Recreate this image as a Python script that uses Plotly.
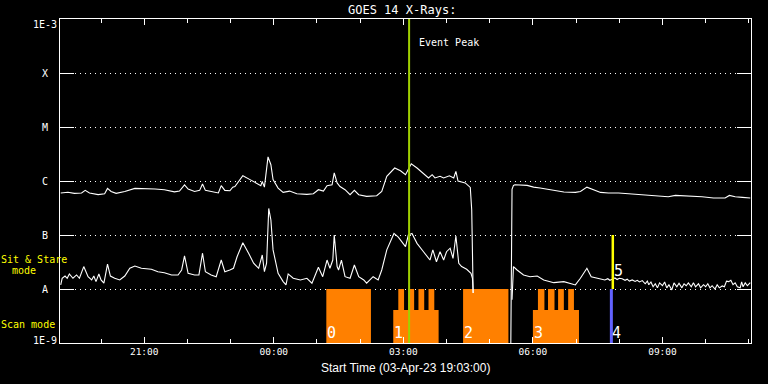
import math
from datetime import datetime
import plotly.graph_objects as go

# ---------------- data ----------------
long_times = ["19:04", "19:14", "19:23", "19:33", "19:38", "19:44", "19:56", "20:05", "20:09", "20:14",
              "20:21", "20:33", "20:47", "21:01", "21:15", "21:28", "21:42", "21:49", "21:56", "22:01",
              "22:10", "22:17", "22:21", "22:25", "22:36", "22:43", "22:47", "22:52", "22:59", "23:03",
              "23:06", "23:17", "23:27", "23:36", "23:42", "23:44", "23:47", "23:52", "23:56", "23:59",
              "00:06", "00:13", "00:22", "00:32", "00:46", "00:55", "01:02", "01:09", "01:14", "01:21",
              "01:24", "01:28", "01:32", "01:39", "01:46", "01:52", "01:58", "02:09", "02:23", "02:30",
              "02:37", "02:48", "02:56", "03:03", "03:06", "03:11", "03:19", "03:28", "03:35", "03:40",
              "03:44", "03:51", "03:56", "04:04", "04:10", "04:13", "04:16", "04:26", "04:33", "04:35",
              "04:37", "05:00", "05:29", "05:31", "05:33", "05:35", "05:52", "06:01", "06:10", "06:29",
              "06:43", "06:59", "07:06", "07:15", "07:22", "07:34", "07:45", "07:59", "08:13", "08:32",
              "08:50", "09:08", "09:18", "09:32", "09:46", "09:55", "10:11", "10:27", "10:33", "10:41",
              "10:51", "11:02"]
long_flux = [6.0e-7, 6.2e-7, 5.9e-7, 6.0e-7, 6.7e-7, 6.0e-7, 5.6e-7, 5.8e-7, 7.3e-7, 6.4e-7,
             5.9e-7, 6.4e-7, 7.3e-7, 7.3e-7, 7.1e-7, 6.9e-7, 6.3e-7, 6.5e-7, 8.5e-7, 7.1e-7,
             6.4e-7, 6.7e-7, 8.8e-7, 6.7e-7, 6.15e-7, 6.0e-7, 8.2e-7, 6.7e-7, 6.6e-7, 7.7e-7,
             7.9e-7, 1.25e-6, 1.06e-6, 9.2e-7, 8.2e-7, 9.8e-7, 7.7e-7, 2.8e-6, 2.0e-6, 1.06e-6,
             7.4e-7, 6.15e-7, 6.5e-7, 5.8e-7, 5.65e-7, 5.8e-7, 6.9e-7, 6.5e-7, 8.2e-7, 8.5e-7,
             1.41e-6, 9.2e-7, 7.9e-7, 6.9e-7, 5.57e-7, 6.7e-7, 5.57e-7, 5.19e-7, 5.34e-7, 6.4e-7,
             1.22e-6, 1.74e-6, 1.55e-6, 1.31e-6, 1.57e-6, 2.09e-6, 1.74e-6, 1.36e-6, 1.14e-6, 1.31e-6,
             1.14e-6, 1.22e-6, 1.14e-6, 1.25e-6, 1.14e-6, 1.51e-6, 1.0e-6, 9.2e-7, 7.6e-7, 2.9e-7,
             8.4e-9, None, 3e-10, 7.0e-7, 8.3e-7, 8.5e-7, 8.3e-7, 7.7e-7, 7.4e-7, 6.7e-7,
             6.25e-7, 6.15e-7, 6.4e-7, 7.7e-7, 7.1e-7, 6.15e-7, 6.0e-7, 6.0e-7, 5.8e-7, 5.57e-7,
             5.34e-7, 5.12e-7, 5.41e-7, 5.34e-7, 5.19e-7, 5.12e-7, 4.84e-7, 4.84e-7, 5.41e-7, 5.12e-7,
             4.97e-7, 4.84e-7]

short_times = ["19:04", "19:06", "19:10", "19:13", "19:16", "19:21", "19:26", "19:30", "19:36", "19:42",
               "19:47", "19:50", "19:53", "19:57", "20:00", "20:04", "20:09", "20:13", "20:19", "20:26",
               "20:33", "20:40", "20:47", "20:56", "21:10", "21:19", "21:28", "21:38", "21:47", "21:52",
               "21:56", "22:01", "22:10", "22:16", "22:21", "22:25", "22:33", "22:40", "22:47", "22:52",
               "22:59", "23:04", "23:09", "23:17", "23:25", "23:32", "23:39", "23:44", "23:47", "23:50",
               "23:53", "23:56", "23:59", "00:06", "00:13", "00:17", "00:20", "00:27", "00:37", "00:46",
               "00:53", "00:57", "01:02", "01:08", "01:14", "01:18", "01:22", "01:24", "01:28", "01:30",
               "01:34", "01:39", "01:46", "01:52", "01:58", "02:05", "02:09", "02:18", "02:25", "02:30",
               "02:37", "02:47", "02:53", "03:03", "03:07", "03:12", "03:19", "03:28", "03:37", "03:41",
               "03:46", "03:51", "03:56", "04:00", "04:05", "04:09", "04:13", "04:17", "04:21", "04:28",
               "04:34", "04:36", "04:37", "05:00", "05:31", "05:33", "05:38", "05:47", "05:56", "06:06",
               "06:15", "06:29", "06:43", "06:52", "06:59", "07:06", "07:15", "07:21", "07:31", "07:40",
               "07:44", "07:47", "07:50", "07:54", "07:57", "08:00", "08:04", "08:08", "08:11", "08:14",
               "08:18", "08:22", "08:25", "08:28", "08:32", "08:36", "08:39", "08:41", "08:44", "08:47",
               "08:50", "08:53", "08:56", "09:00", "09:03", "09:06", "09:09", "09:13", "09:16", "09:20",
               "09:23", "09:27", "09:30", "09:33", "09:36", "09:40", "09:43", "09:46", "09:50", "09:53",
               "09:57", "10:00", "10:03", "10:06", "10:09", "10:13", "10:16", "10:19", "10:23", "10:26",
               "10:29", "10:32", "10:35", "10:38", "10:41", "10:44", "10:48", "10:50", "10:52", "10:55",
               "10:58", "11:02"]
short_flux = [1.19e-8, 1.58e-8, 1.74e-8, 1.58e-8, 1.9e-8, 1.58e-8, 1.82e-8, 1.58e-8, 2.6e-8, 1.69e-8,
              1.47e-8, 1.74e-8, 1.37e-8, 1.9e-8, 1.47e-8, 1.28e-8, 2.9e-8, 1.74e-8, 1.58e-8, 1.47e-8,
              1.74e-8, 2.42e-8, 2.67e-8, 2.42e-8, 2.32e-8, 2.09e-8, 2.0e-8, 1.82e-8, 1.82e-8, 2.25e-8,
              4.1e-8, 1.95e-8, 1.82e-8, 1.82e-8, 4.6e-8, 2.09e-8, 1.82e-8, 1.69e-8, 3.44e-8, 2.09e-8,
              2.25e-8, 2.42e-8, 3.96e-8, 7.2e-8, 4.6e-8, 3.0e-8, 2.42e-8, 4.26e-8, 2.09e-8, 3.0e-8,
              3.1e-7, 1.9e-7, 5.3e-8, 1.95e-8, 1.37e-8, 1.19e-8, 1.9e-8, 1.58e-8, 1.47e-8, 1.58e-8,
              1.28e-8, 1.69e-8, 2.52e-8, 1.69e-8, 3.44e-8, 2.42e-8, 3.44e-8, 1.0e-7, 2.6e-8, 2.25e-8,
              3.44e-8, 1.69e-8, 1.58e-8, 2.78e-8, 1.69e-8, 1.47e-8, 1.28e-8, 1.69e-8, 1.47e-8, 2.25e-8,
              5.3e-8, 1.07e-7, 9.1e-8, 6.1e-8, 1.0e-7, 1.07e-7, 7.0e-8, 4.9e-8, 3.44e-8, 5.3e-8,
              3.2e-8, 4.9e-8, 3.44e-8, 4.9e-8, 5.7e-8, 3.7e-8, 9.6e-8, 3.0e-8, 2.6e-8, 2.32e-8,
              1.95e-8, 1.58e-8, 8.4e-9, None, 6.3e-9, 2.6e-8, 2.25e-8, 1.82e-8, 1.69e-8, 1.74e-8,
              1.47e-8, 1.31e-8, 1.37e-8, 1.28e-8, 1.19e-8, 1.58e-8, 2.42e-8, 1.69e-8, 1.58e-8, 1.47e-8,
              1.55e-8, 1.45e-8, 1.51e-8, 1.6e-8, 1.5e-8, 1.58e-8, 1.55e-8, 1.45e-8, 1.52e-8, 1.4e-8,
              1.47e-8, 1.38e-8, 1.45e-8, 1.35e-8, 1.43e-8, 1.25e-8, 1.4e-8, 1.2e-8, 1.35e-8, 1.1e-8,
              1.25e-8, 1.05e-8, 1.3e-8, 1.15e-8, 1.35e-8, 1.05e-8, 1.2e-8, 9.6e-9, 1.3e-8, 1.1e-8,
              1.28e-8, 1.05e-8, 1.25e-8, 1.15e-8, 1.3e-8, 1.1e-8, 1.31e-8, 1.1e-8, 1.25e-8, 1.05e-8,
              1.2e-8, 1.1e-8, 1.25e-8, 1.05e-8, 1.15e-8, 1.0e-8, 1.2e-8, 1.05e-8, 1.14e-8, 1.1e-8,
              1.4e-8, 1.37e-8, 1.45e-8, 1.2e-8, 1.3e-8, 1.1e-8, 1.05e-8, 1.35e-8, 1.1e-8, 1.3e-8,
              1.15e-8, 1.31e-8]

# observation blocks (orange)
bar_labels = ["0", "1", "2", "3"]
bar_start = ["01:13", "02:46", "04:23", "06:00"]
bar_end = ["02:15", "03:49", "05:26", "07:04"]
bar_level = [1e-8, 4.1e-9, 1e-8, 4.1e-9]
teeth_start = [[], ["02:53", "03:07", "03:21", "03:35"], [], ["06:07", "06:21", "06:35", "06:49"]]
teeth_end = [[], ["03:01", "03:15", "03:29", "03:43"], [], ["06:16", "06:30", "06:43", "06:57"]]
teeth_level = 1e-8

event_peak_time = "03:08"
scan_marker_time = "07:49"      # "4" (blue)
stare_marker_time = "07:51"     # "5" (yellow)

ytick_vals = [1e-9, 1e-8, 1e-7, 1e-6, 1e-5, 1e-4, 1e-3]
ytick_text = ["1E-9", "A", "B", "C", "M", "X", "1E-3"]

FLOOR = 1e-9
CEIL = 1e-3


def to_dt(hhmm):
    h, m = map(int, hhmm.split(":"))
    day = 3 if h >= 19 else 4
    return datetime(2023, 4, day, h, m)


MONO = "DejaVu Sans Mono"
SANS = "Liberation Sans"

fig = go.Figure()

# orange blocks
for s, e, lvl, ts, te in zip(bar_start, bar_end, bar_level, teeth_start, teeth_end):
    xs = [to_dt(s), to_dt(s)]
    ys = [FLOOR, lvl]
    for a, b in zip(ts, te):
        xs += [to_dt(a), to_dt(a), to_dt(b), to_dt(b)]
        ys += [lvl, teeth_level, teeth_level, lvl]
    xs += [to_dt(e), to_dt(e), to_dt(s)]
    ys += [lvl, FLOOR, FLOOR]
    fig.add_trace(go.Scatter(x=xs, y=ys, mode="lines", fill="toself",
                             fillcolor="#ff8000", line=dict(width=0, color="#ff8000"),
                             hoverinfo="skip", showlegend=False))

# GOES curves
fig.add_trace(go.Scatter(x=[to_dt(t) for t in long_times], y=long_flux, mode="lines",
                         line=dict(color="white", width=1.1), connectgaps=False, showlegend=False))
fig.add_trace(go.Scatter(x=[to_dt(t) for t in short_times], y=short_flux, mode="lines",
                         line=dict(color="white", width=1.1), connectgaps=False, showlegend=False))

# markers
fig.add_trace(go.Scatter(x=[to_dt(scan_marker_time)] * 2, y=[FLOOR, 1e-8], mode="lines",
                         line=dict(color="#6262ff", width=3), showlegend=False))
fig.add_trace(go.Scatter(x=[to_dt(stare_marker_time)] * 2, y=[1e-8, 1e-7], mode="lines",
                         line=dict(color="#ffff00", width=2.5), showlegend=False))
fig.add_trace(go.Scatter(x=[to_dt(event_peak_time)] * 2, y=[FLOOR, CEIL], mode="lines",
                         line=dict(color="#a0d000", width=2), showlegend=False))

ann = []
# y labels
for v, t in zip(ytick_vals, ytick_text):
    shift = 0
    if t == "1E-3":
        shift = -5
    elif t == "1E-9":
        shift = 3
    ann.append(dict(x=-0.0224, xref="paper", y=math.log10(v), yref="y", text=t,
                    showarrow=False, xanchor="center", yanchor="middle", yshift=shift,
                    font=dict(family=MONO, size=10, color="white")))
# title
ann.append(dict(x=0.495, xref="paper", y=1, yref="paper", yanchor="bottom", text="GOES 14 X-Rays:",
                showarrow=False, font=dict(family=MONO, size=12, color="white")))
# x title
ann.append(dict(x=0.5, xref="paper", y=-0.077, yref="paper", yanchor="middle",
                text="Start Time (03-Apr-23 19:03:00)", showarrow=False,
                font=dict(family=SANS, size=12, color="white")))
# mode labels
ann.append(dict(x=-0.0376, xref="paper", y=0.259, yref="paper", text="Sit & Stare", showarrow=False,
                xanchor="center", yanchor="middle", font=dict(family=MONO, size=10, color="#ffff00")))
ann.append(dict(x=-0.0517, xref="paper", y=0.223, yref="paper", text="mode", showarrow=False,
                xanchor="center", yanchor="middle", font=dict(family=MONO, size=10, color="#ffff00")))
ann.append(dict(x=-0.0459, xref="paper", y=0.0586, yref="paper", text="Scan mode", showarrow=False,
                xanchor="center", yanchor="middle", font=dict(family=MONO, size=10, color="#ffff00")))
# event peak
ann.append(dict(x=to_dt(event_peak_time), xref="x", y=0.9265, yref="paper", text="Event Peak",
                showarrow=False, xanchor="left", yanchor="middle", xshift=8,
                font=dict(family=MONO, size=10, color="white")))
# bar numbers
for s, lab in zip(bar_start, bar_labels):
    ann.append(dict(x=to_dt(s), xref="x", y=-9, yref="y", text=lab, showarrow=False,
                    xanchor="left", yanchor="bottom", xshift=-1, yshift=-1,
                    font=dict(family=MONO, size=15, color="white")))
ann.append(dict(x=to_dt(scan_marker_time), xref="x", y=-9, yref="y", text="4", showarrow=False,
                xanchor="left", yanchor="bottom", xshift=-1, yshift=-1,
                font=dict(family=MONO, size=15, color="white")))
ann.append(dict(x=to_dt(stare_marker_time), xref="x", y=-7.87, yref="y", text="5", showarrow=False,
                xanchor="left", yanchor="bottom", xshift=-1,
                font=dict(family=MONO, size=15, color="white")))

fig.update_layout(
    width=768, height=384,
    margin=dict(l=60, r=17, t=19, b=41, autoexpand=False),
    paper_bgcolor="black", plot_bgcolor="black",
    showlegend=False,
    annotations=ann,
    xaxis=dict(
        type="date",
        range=[datetime(2023, 4, 3, 19, 3), datetime(2023, 4, 4, 11, 3)],
        tick0=datetime(2023, 4, 3, 21, 0), dtick=3 * 3600000, tickformat="%H:%M",
        ticks="inside", ticklen=6, tickwidth=1, tickcolor="white",
        minor=dict(ticks="inside", ticklen=4, tickwidth=1, tickcolor="white",
                   dtick=3600000, tick0=datetime(2023, 4, 3, 20, 0), showgrid=False),
        showgrid=False, zeroline=False, automargin=False,
        showline=True, linecolor="white", linewidth=1, mirror="ticks",
        tickfont=dict(family=MONO, size=9.5, color="white"),
    ),
    yaxis=dict(
        type="log", range=[-9, -3],
        tickvals=ytick_vals, ticktext=ytick_text, showticklabels=False,
        ticks="inside", ticklen=14, tickwidth=1, tickcolor="white",
        showgrid=True, gridcolor="white", gridwidth=1, griddash="1px,4px",
        zeroline=False, automargin=False,
        showline=True, linecolor="white", linewidth=1, mirror="ticks",
    ),
)

fig.write_html(
    "out.html",
    config={"displayModeBar": False},
    post_script="document.body.style.margin='0';document.body.style.padding='0';"
                "document.body.style.background='black';",
)
